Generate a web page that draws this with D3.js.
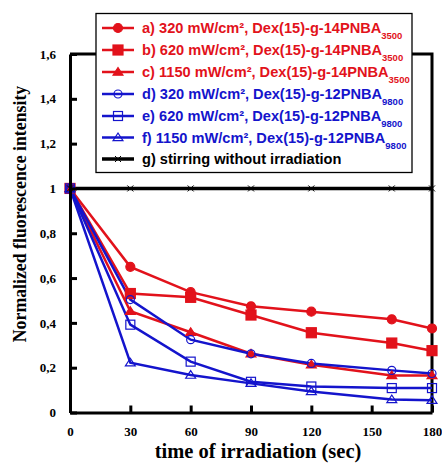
<!DOCTYPE html>
<html><head><meta charset="utf-8">
<script src="https://cdn.jsdelivr.net/npm/d3@7"></script>
<style>body{margin:0;background:#fff}</style>
</head><body>
<svg id="c" width="442" height="464"></svg>
<script>
const times = [0, 30, 60, 90, 120, 160, 180];
const seriesA = [1, 0.650, 0.537, 0.474, 0.450, 0.416, 0.375];
const seriesB = [1, 0.531, 0.514, 0.435, 0.356, 0.310, 0.276];
const seriesC = [1, 0.452, 0.358, 0.262, 0.213, 0.165, 0.165];
const seriesD = [1, 0.504, 0.325, 0.262, 0.219, 0.188, 0.174];
const seriesE = [1, 0.392, 0.227, 0.137, 0.116, 0.109, 0.109];
const seriesF = [1, 0.222, 0.167, 0.130, 0.094, 0.058, 0.055];
const seriesG = [1, 1, 1, 1, 1, 1, 1];
const xTicks = [0, 30, 60, 90, 120, 150, 180];
const yTicks = [0, 0.2, 0.4, 0.6, 0.8, 1, 1.2, 1.4, 1.6];
const yTickLabels = ["0", "0,2", "0,4", "0,6", "0,8", "1", "1,2", "1,4", "1,6"];
const legendMain = ["a) 320 mW/cm², Dex(15)-g-14PNBA", "b) 620 mW/cm², Dex(15)-g-14PNBA", "c) 1150 mW/cm², Dex(15)-g-14PNBA",
  "d) 320 mW/cm², Dex(15)-g-12PNBA", "e) 620 mW/cm², Dex(15)-g-12PNBA", "f) 1150 mW/cm², Dex(15)-g-12PNBA", "g) stirring without irradiation"];
const legendSub = ["3500", "3500", "3500", "9800", "9800", "9800", ""];

const RED = "#e2121b", BLUE = "#1414cc";
const series = [
  {v: seriesA, c: RED, m: "circle", fill: true},
  {v: seriesB, c: RED, m: "square", fill: true},
  {v: seriesC, c: RED, m: "triangle", fill: true},
  {v: seriesD, c: BLUE, m: "circle", fill: false},
  {v: seriesE, c: BLUE, m: "square", fill: false},
  {v: seriesF, c: BLUE, m: "triangle", fill: false},
  {v: seriesG, c: "#000", m: "x", fill: false}
];

const svg = d3.select("#c");
const x = d3.scaleLinear().domain([0, 180]).range([70, 432]);
const y = d3.scaleLinear().domain([0, 1.6]).range([412.5, 54]);
const serif = "'Liberation Serif', 'Times New Roman', serif";
const sans = "'Liberation Sans', Arial, sans-serif";

function marker(g, m, cx, cy, color, fill) {
  if (m === "circle") {
    g.append("circle").attr("cx", cx).attr("cy", cy).attr("r", fill ? 4.5 : 4)
      .attr("fill", fill ? color : "none").attr("stroke", color).attr("stroke-width", 1.2);
  } else if (m === "square") {
    const h = fill ? 5 : 4.5;
    g.append("rect").attr("x", cx - h).attr("y", cy - h).attr("width", 2*h).attr("height", 2*h)
      .attr("fill", fill ? color : "none").attr("stroke", color).attr("stroke-width", 1.2);
  } else if (m === "triangle") {
    const h = 4.5;
    g.append("path").attr("d", `M${cx},${cy-h}L${cx+h*1.1},${cy+h*0.7}L${cx-h*1.1},${cy+h*0.7}Z`)
      .attr("fill", fill ? color : "none").attr("stroke", color).attr("stroke-width", 1.2);
  } else if (m === "x") {
    const h = 3;
    g.append("path").attr("d", `M${cx-h},${cy-h}L${cx+h},${cy+h}M${cx-h},${cy+h}L${cx+h},${cy-h}`)
      .attr("stroke", color).attr("stroke-width", 1);
  }
}

// frame (top & right)
svg.append("path").attr("d", `M${x(0)},${y(1.6)}H${x(180)}V${y(0)}`)
  .attr("fill", "none").attr("stroke", "#000").attr("stroke-width", 3);

// series lines
const line = d3.line().x((d, i) => x(times[i])).y(d => y(d));
series.forEach((s, k) => {
  svg.append("path").datum(s.v).attr("d", line).attr("fill", "none")
    .attr("stroke", s.c).attr("stroke-width", k === 6 ? 3.5 : 2.5);
});
series.forEach(s => {
  const g = svg.append("g");
  s.v.forEach((d, i) => marker(g, s.m, x(times[i]), y(d), s.c, s.fill));
});

// axes
const xAxis = d3.axisBottom(x).tickValues(xTicks).tickSizeInner(-7).tickSizeOuter(0).tickPadding(14)
  .tickFormat(d3.format("d"));
const gx = svg.append("g").attr("transform", `translate(0,${y(0)})`).call(xAxis);
const yAxis = d3.axisLeft(y).tickValues(yTicks).tickSizeInner(-7).tickSizeOuter(0).tickPadding(14)
  .tickFormat((d, i) => yTickLabels[i]);
const gy = svg.append("g").attr("transform", `translate(${x(0)},0)`).call(yAxis);
[gx, gy].forEach(g => {
  g.select(".domain").attr("stroke", "#000").attr("stroke-width", 3);
  g.selectAll(".tick line").attr("stroke", "#000").attr("stroke-width", 3);
  g.selectAll(".tick text").attr("font-family", serif).attr("font-weight", "bold")
    .attr("font-size", 13).attr("fill", "#000");
});
gx.selectAll(".tick text").attr("dy", "0.71em");

// axis titles
svg.append("text").attr("x", 258).attr("y", 458).attr("text-anchor", "middle")
  .attr("font-family", serif).attr("font-weight", "bold").attr("font-size", 20.5)
  .text("time of irradiation (sec)");
svg.append("text").attr("transform", `translate(26,214) rotate(-90)`).attr("text-anchor", "middle")
  .attr("font-family", serif).attr("font-weight", "bold").attr("font-size", 17.8)
  .text("Normalized fluorescence intensity");

// legend
const lg = svg.append("g");
lg.append("rect").attr("x", 96).attr("y", 13.5).attr("width", 316).attr("height", 159)
  .attr("fill", "#fff").attr("stroke", "#000").attr("stroke-width", 1.3);
const rowY = [28, 50, 72, 94, 116, 137.5, 159];
series.forEach((s, i) => {
  const ry = rowY[i];
  lg.append("line").attr("x1", 102).attr("x2", 134).attr("y1", ry).attr("y2", ry)
    .attr("stroke", s.c).attr("stroke-width", i === 6 ? 3.5 : 2.5);
  marker(lg, s.m, 118, ry, s.c, s.fill);
  const t = lg.append("text").attr("x", 142).attr("y", ry + 5)
    .attr("font-family", sans).attr("font-weight", "bold").attr("font-size", 14.6).attr("fill", s.c);
  t.append("tspan").text(legendMain[i]);
  if (legendSub[i]) t.append("tspan").attr("dy", 6).attr("font-size", 9.5).text(legendSub[i]);
});
</script>
</body></html>
